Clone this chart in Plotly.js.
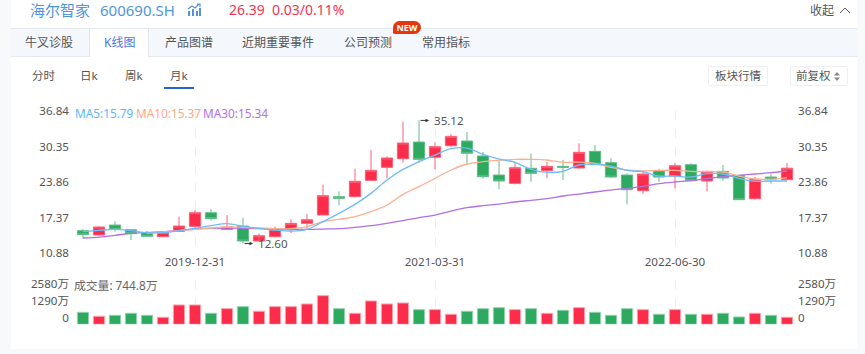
<!DOCTYPE html>
<html><head><meta charset="utf-8">
<script src="https://cdn.plot.ly/plotly-3.0.1.min.js"></script>
<style>
html,body{margin:0;padding:0;width:865px;height:354px;overflow:hidden;background:#f8f9fa;font-family:"Noto Sans","Noto Sans CJK SC",sans-serif;}
#card{position:absolute;left:11px;top:0;width:846px;height:349px;background:#fff;}
#chart{position:absolute;left:0;top:0;width:865px;height:354px;}
.t{position:absolute;white-space:nowrap;line-height:16px;height:16px;}
#bar{position:absolute;left:11px;top:28px;width:846px;height:27px;background:#f4f8fc;border-top:1px solid #e3e8ee;border-bottom:1px solid #e3e8ee;}
#act{position:absolute;left:89px;top:28px;width:60px;height:29px;background:#fff;border-left:1px solid #e3e8ee;border-right:1px solid #e3e8ee;border-top:1px solid #e3e8ee;box-sizing:border-box;}
.btn{position:absolute;top:66px;height:20px;border:1px solid #eef0f3;border-radius:2px;box-sizing:border-box;background:#fff;}
</style></head><body>
<div id="card"></div>
<div id="bar"></div><div id="act"></div>
<div id="chart"></div>
<div class="t" style="left:30px;top:2px;font-size:15px;color:#4f94dc;">海尔智家</div>
<div class="t" style="left:100px;top:2px;font-size:15px;color:#4f94dc;">600690.SH</div>
<svg style="position:absolute;left:187px;top:3px" width="15" height="14" viewBox="0 0 15 14">
<g fill="#4f94dc"><rect x="1" y="8" width="2" height="5"/><rect x="5" y="6" width="2" height="7"/><rect x="9" y="8" width="2" height="5"/><rect x="12" y="5" width="2" height="8"/></g>
<path d="M1 6 L5 3 L8 5 L12 1 M10 1 L13 1 L13 4" fill="none" stroke="#4f94dc" stroke-width="1.2"/></svg>
<div class="t" style="left:229px;top:2px;font-size:14px;color:#f5334f;">26.39</div>
<div class="t" style="left:272px;top:2px;font-size:14px;color:#f5334f;">0.03/0.11%</div>
<div class="t" style="left:810px;top:3px;font-size:12px;color:#555;">收起</div>
<svg style="position:absolute;left:839px;top:6px" width="12" height="9"><path d="M1 7 L6 2 L11 7" fill="none" stroke="#555" stroke-width="1"/></svg>
<div class="t" style="left:25px;top:35px;font-size:12px;color:#555;">牛叉诊股</div>
<div class="t" style="left:104px;top:35px;font-size:12px;color:#4a78dc;">K线图</div>
<div class="t" style="left:165px;top:35px;font-size:12px;color:#555;">产品图谱</div>
<div class="t" style="left:242px;top:35px;font-size:12px;color:#555;">近期重要事件</div>
<div class="t" style="left:344px;top:35px;font-size:12px;color:#555;">公司预测</div>
<div class="t" style="left:422px;top:35px;font-size:12px;color:#555;">常用指标</div>
<div style="position:absolute;left:393px;top:21px;width:28px;height:13px;line-height:13px;border-radius:7px 7px 7px 2px;background:#e8340f;color:#fff;font-size:9px;font-weight:700;text-align:center;">NEW</div>
<div class="t" style="left:32px;top:68px;font-size:11.5px;color:#555;">分时</div>
<div class="t" style="left:80px;top:68px;font-size:11.5px;color:#555;">日k</div>
<div class="t" style="left:125px;top:68px;font-size:11.5px;color:#555;">周k</div>
<div class="t" style="left:170px;top:68px;font-size:11.5px;color:#555;">月k</div>
<div style="position:absolute;left:164px;top:87px;width:30px;height:2px;background:#2563d9;"></div>
<div class="btn" style="left:708px;width:60px;"></div>
<div class="btn" style="left:790px;width:58px;"></div>
<div class="t" style="left:715px;top:68px;font-size:11.5px;color:#555;">板块行情</div>
<div class="t" style="left:796px;top:68px;font-size:11.5px;color:#555;">前复权</div>
<svg style="position:absolute;left:834px;top:72px" width="6" height="9"><path d="M0 3.5 L3 0 L6 3.5 Z M0 5.5 L3 9 L6 5.5 Z" fill="#888"/></svg>
<script>
const dates = ["2019-05-31","2019-06-30","2019-07-31","2019-08-31","2019-09-30","2019-10-31","2019-11-30","2019-12-31","2020-01-31","2020-02-29","2020-03-31","2020-04-30","2020-05-31","2020-06-30","2020-07-31","2020-08-31","2020-09-30","2020-10-31","2020-11-30","2020-12-31","2021-01-31","2021-02-28","2021-03-31","2021-04-30","2021-05-31","2021-06-30","2021-07-31","2021-08-31","2021-09-30","2021-10-31","2021-11-30","2021-12-31","2022-01-31","2022-02-28","2022-03-31","2022-04-30","2022-05-31","2022-06-30","2022-07-31","2022-08-31","2022-09-30","2022-10-31","2022-11-30","2022-12-31","2023-01-31"];
const openP = [14.96,14.17,15.99,15.14,14.59,13.86,14.84,15.75,18.25,15.20,15.81,13.07,13.86,15.20,16.30,17.82,21.18,21.18,24.16,26.54,28.12,31.17,28.37,30.50,31.35,28.61,25.14,23.61,26.36,25.93,26.72,26.42,29.46,27.39,25.14,22.27,25.87,24.95,27.03,24.04,25.81,25.08,20.81,24.77,24.28];
const closeP = [14.23,15.63,15.20,14.41,13.92,14.65,15.81,18.25,17.15,15.63,13.07,14.05,15.20,16.30,16.97,21.36,20.87,23.98,25.99,28.25,30.99,28.00,30.32,32.20,29.10,24.83,24.04,26.48,25.44,26.72,26.54,29.28,27.09,24.77,22.46,25.32,24.77,26.84,24.10,25.81,24.59,20.63,24.34,24.41,26.39];
const highP = [15.26,15.75,16.67,15.26,14.90,14.78,17.52,18.74,18.92,17.82,17.34,14.47,15.69,17.03,18.01,23.37,22.15,26.29,29.71,28.55,34.89,35.12,31.11,32.63,33.00,29.34,27.88,27.57,29.04,27.51,27.88,30.93,30.62,28.18,25.44,25.93,26.29,27.33,27.27,25.93,26.97,25.14,24.83,25.38,27.33];
const lowP = [13.56,14.11,14.78,13.25,13.86,13.80,14.72,15.33,16.79,15.20,12.60,13.95,13.74,14.53,15.33,17.82,19.59,21.05,24.10,24.53,27.39,27.39,26.17,30.20,27.15,24.47,22.52,23.43,23.92,24.53,24.22,26.36,26.97,24.59,19.77,21.66,23.86,22.70,23.98,22.15,24.10,20.57,20.63,23.55,24.16];
const volumes = [911,607,683,835,683,531,1467,1467,835,1189,1341,987,1341,1341,1543,2176,1189,835,1771,1543,1619,1113,1113,759,987,1189,1265,1113,1189,835,1063,1265,911,683,1189,1113,759,1113,759,759,835,557,835,683,531];
const ma5 = [14.78,15.02,15.20,14.96,14.59,14.59,14.96,15.39,15.87,16.24,15.75,15.39,15.08,14.90,15.20,16.61,18.13,19.77,21.78,24.22,26.17,27.57,28.79,29.95,30.07,28.91,28.06,27.45,26.17,25.62,25.81,26.97,27.09,26.78,25.99,25.75,24.95,24.95,24.77,25.38,25.32,24.53,23.98,24.04,24.04];
const ma10 = [null,null,null,null,14.53,14.72,14.96,15.20,15.45,15.63,15.57,15.45,15.33,15.33,15.69,16.61,17.03,17.52,18.43,19.65,21.60,23.00,24.53,26.05,27.15,27.57,27.82,28.00,28.00,27.88,27.45,27.51,27.27,26.54,26.05,25.87,25.99,25.99,25.81,25.75,25.69,24.95,24.41,24.34,24.65];
const ma30 = [13.62,13.80,14.11,14.47,14.65,14.78,15.02,15.26,15.39,15.45,15.39,15.33,15.26,15.20,15.20,15.26,15.33,15.57,15.87,16.30,16.79,17.34,17.82,18.55,19.16,19.53,19.83,20.20,20.50,20.81,21.30,21.66,22.03,22.39,22.70,23.07,23.55,23.86,24.10,24.47,24.83,25.08,25.32,25.56,25.87];
const priceTicks = [10.88,17.37,23.86,30.35,36.84];
const volTicks = [0,1290,2580];
const volTickText = ["0","1290万","2580万"];
const dateTicks = ["2019-12-31","2021-03-31","2022-06-30"];
const legendText = ["MA5:15.79","MA10:15.37","MA30:15.34"];

const FONT = '"Noto Sans","Noto Sans CJK SC",sans-serif';
const RED='#fb2d4b', GREEN='#2daa5f', REDL='#fb6076', GREENL='#62bd88';
const W=865,H=354;
const py=p=>1-p/H;
const up = closeP.map((c,i)=>c>=openP[i]);
const traces=[
 {type:'candlestick',x:dates,open:openP,high:highP,low:lowP,close:closeP,xaxis:'x',yaxis:'y',hoverinfo:'skip',
  increasing:{line:{color:REDL,width:1},fillcolor:RED},decreasing:{line:{color:GREENL,width:1},fillcolor:GREEN},whiskerwidth:0},
 {type:'scatter',mode:'lines',x:dates,y:ma30,xaxis:'x',yaxis:'y3',line:{color:'#b070e6',width:1.3,shape:'spline'},hoverinfo:'skip'},
 {type:'scatter',mode:'lines',x:dates,y:ma10,xaxis:'x',yaxis:'y3',line:{color:'#ffae90',width:1.3,shape:'spline'},hoverinfo:'skip'},
 {type:'scatter',mode:'lines',x:dates,y:ma5,xaxis:'x',yaxis:'y3',line:{color:'#6cbcfb',width:1.3,shape:'spline'},hoverinfo:'skip'},
 {type:'bar',x:dates,y:volumes.map((v,i)=>up[i]?v:null),xaxis:'x2',yaxis:'y2',marker:{color:RED,line:{color:'#fda0ae',width:1}},hoverinfo:'skip'},
 {type:'bar',x:dates,y:volumes.map((v,i)=>up[i]?null:v),xaxis:'x2',yaxis:'y4',marker:{color:GREEN,line:{color:'#93d3ae',width:1}},hoverinfo:'skip'}
];
const tf={family:FONT,size:11.6,color:'#555'};
const xBase={type:'category',range:[-0.5,44.5],domain:[75/W,795/W],showline:false,zeroline:false,ticks:'',tickmode:'array',tickvals:dateTicks,ticktext:dateTicks,showgrid:true,gridcolor:'#ededed',griddash:'dash',gridwidth:1,tickfont:tf,fixedrange:true};
const yBase={showgrid:false,zeroline:false,showline:false,ticks:'',tickfont:tf,fixedrange:true,tickmode:'array'};
const mainDom=[py(253),py(111)], volDom=[py(324.3),py(280)];
const ann=(x,y,text,color)=>({xref:'paper',yref:'paper',x:x/W,y:py(y),text,showarrow:false,xanchor:'left',yanchor:'middle',font:{family:FONT,size:11.8,color}});
const layout={
 width:W,height:H,margin:{l:0,r:0,t:0,b:0},paper_bgcolor:'rgba(0,0,0,0)',plot_bgcolor:'rgba(0,0,0,0)',showlegend:false,
 boxgap:0.3,boxgroupgap:0,bargap:0.3,
 xaxis:Object.assign({},xBase,{anchor:'y',rangeslider:{visible:false}}),
 xaxis2:Object.assign({},xBase,{anchor:'y2',showticklabels:false}),
 yaxis:Object.assign({},yBase,{domain:mainDom,range:[10.88,36.84],tickvals:priceTicks,tickformat:'.2f',side:'left',anchor:'x',ticklabelstandoff:5}),
 yaxis3:Object.assign({},yBase,{domain:mainDom,range:[10.88,36.84],tickvals:priceTicks,tickformat:'.2f',side:'right',overlaying:'y',anchor:'x',ticklabelstandoff:2}),
 yaxis2:Object.assign({},yBase,{domain:volDom,range:[0,3362],tickvals:volTicks,ticktext:volTickText,side:'left',anchor:'x2',ticklabelstandoff:5,ticklabelshift:-6}),
 yaxis4:Object.assign({},yBase,{domain:volDom,range:[0,3362],tickvals:volTicks,ticktext:volTickText,side:'right',overlaying:'y2',anchor:'x2',ticklabelstandoff:2,ticklabelshift:-6}),
 annotations:[
  ann(72.5,113,legendText[0],'#5db6ff'),ann(133.5,113,legendText[1],'#ffa686'),ann(200.5,113,legendText[2],'#b170e8'),
  ann(72,285,'成交量: 744.8万','#666'),
  {xref:'x',yref:'y',x:dates[21],y:35.12,xshift:10,ax:-10,ay:0,axref:'pixel',ayref:'pixel',text:'',showarrow:true,arrowhead:2,arrowsize:0.7,arrowwidth:1,arrowcolor:'#333'},
  {xref:'x',yref:'y',x:dates[21],y:35.12,xshift:13,text:'35.12',showarrow:false,xanchor:'left',yanchor:'middle',font:tf},
  {xref:'x',yref:'y',x:dates[10],y:12.60,xshift:10,ax:-10,ay:0,axref:'pixel',ayref:'pixel',text:'',showarrow:true,arrowhead:2,arrowsize:0.7,arrowwidth:1,arrowcolor:'#333'},
  {xref:'x',yref:'y',x:dates[10],y:12.60,xshift:13,text:'12.60',showarrow:false,xanchor:'left',yanchor:'middle',font:tf}
 ]
};
Plotly.newPlot('chart',traces,layout,{displayModeBar:false,staticPlot:true});
</script>
</body></html>
